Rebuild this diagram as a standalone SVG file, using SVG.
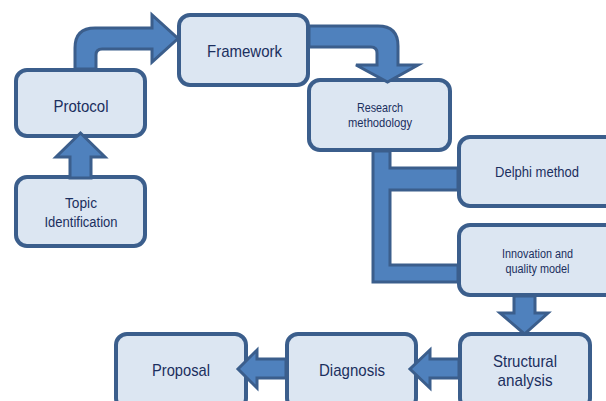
<svg xmlns="http://www.w3.org/2000/svg" width="606" height="401" viewBox="0 0 606 401">
<style>
.box{fill:#DCE6F2;stroke:#3B5E8C;stroke-width:4}
.arr{fill:#4F81BD;stroke:#3B5E8C;stroke-width:3;stroke-linejoin:miter}
text{font-family:"Liberation Sans",Arial,sans-serif;fill:#1B2F5E;text-anchor:middle}
</style>
<rect width="606" height="401" fill="#FFFFFF"/>
<g id="topic"><rect class="box" x="16" y="177" width="129" height="69" rx="11"/>
<text x="81" y="208" font-size="14" textLength="32" lengthAdjust="spacingAndGlyphs">Topic</text>
<text x="81" y="227" font-size="14" textLength="73" lengthAdjust="spacingAndGlyphs">Identification</text></g>
<g id="protocol"><rect class="box" x="16" y="70" width="129" height="66" rx="11"/>
<text x="81" y="112" font-size="17" textLength="55" lengthAdjust="spacingAndGlyphs">Protocol</text></g>
<g id="framework"><rect class="box" x="179" y="15" width="129" height="70" rx="11"/>
<text x="244.5" y="57" font-size="17" textLength="75" lengthAdjust="spacingAndGlyphs">Framework</text></g>
<g id="research"><rect class="box" x="309" y="80" width="141" height="70" rx="11"/>
<text x="380" y="112" font-size="13" textLength="46" lengthAdjust="spacingAndGlyphs">Research</text>
<text x="380" y="127" font-size="13" textLength="64" lengthAdjust="spacingAndGlyphs">methodology</text></g>
<g id="delphi"><rect class="box" x="459" y="137" width="160" height="69" rx="11"/>
<text x="537" y="177" font-size="15" textLength="84" lengthAdjust="spacingAndGlyphs">Delphi method</text></g>
<g id="innovation"><rect class="box" x="459" y="225" width="160" height="70" rx="11"/>
<text x="537.5" y="258" font-size="12" textLength="71" lengthAdjust="spacingAndGlyphs">Innovation and</text>
<text x="537.5" y="273" font-size="12" textLength="64" lengthAdjust="spacingAndGlyphs">quality model</text></g>
<g id="structural"><rect class="box" x="460" y="334" width="130" height="75" rx="11"/>
<text x="525" y="367" font-size="17" textLength="64" lengthAdjust="spacingAndGlyphs">Structural</text>
<text x="525" y="386" font-size="17" textLength="55" lengthAdjust="spacingAndGlyphs">analysis</text></g>
<g id="diagnosis"><rect class="box" x="287" y="334" width="129" height="75" rx="11"/>
<text x="352" y="376" font-size="17" textLength="66" lengthAdjust="spacingAndGlyphs">Diagnosis</text></g>
<g id="proposal"><rect class="box" x="116" y="334" width="130" height="75" rx="11"/>
<text x="181" y="376" font-size="17" textLength="58" lengthAdjust="spacingAndGlyphs">Proposal</text></g>
<g id="connectors">
<path class="arr" d="M70,178 L70,157 L56,157 L80.5,133 L105,157 L91,157 L91,178 Z"/>
<path class="arr" d="M75,69 L75,48 Q75,28 95,28 L152,28 L152,15 L178,38.5 L152,62 L152,49 L102,49 Q96,49 96,55 L96,69 Z"/>
<path class="arr" d="M309,26 L378,26 Q398,26 398,46 L398,65 L418,65 L387.5,82 L356,65 L377,65 L377,53 Q377,47 371,47 L309,47 Z"/>
<path class="arr" d="M373,151 L373,282 L458,282 L458,265 L390,265 L390,190 L458,190 L458,168 L390,168 L390,151 Z"/>
<path class="arr" d="M514,296 L514,313 L500,313 L524.5,334 L548,313 L535,313 L535,296 Z"/>
<path class="arr" d="M459,359 L430,359 L430,350 L410,369 L430,388 L430,378 L459,378 Z"/>
<path class="arr" d="M286,359 L257,359 L257,350 L238,369 L257,388 L257,378 L286,378 Z"/>
</g>
</svg>
